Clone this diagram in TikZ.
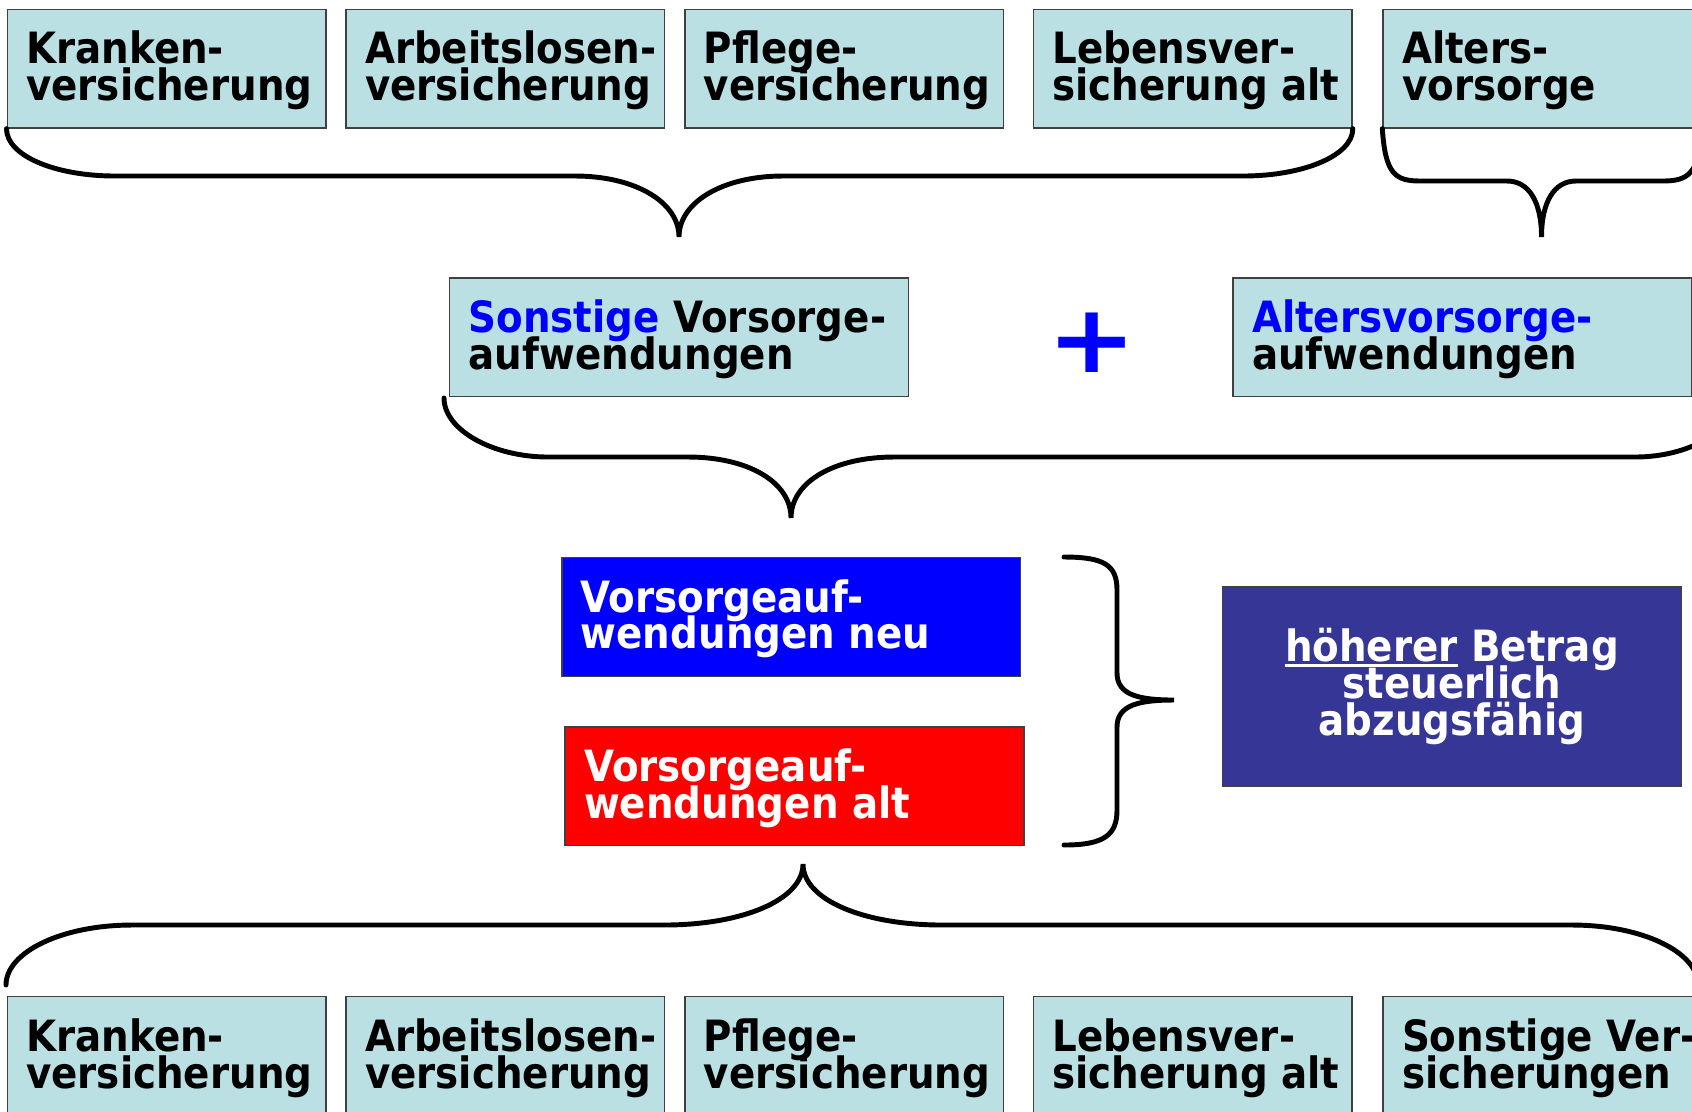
\documentclass[tikz,border=0pt]{standalone}
\usepackage{fontspec}
\setsansfont{DejaVu Sans}[FakeStretch=0.9]
\newfontfamily\plusschrift{DejaVu Sans Bold}
\usepackage{graphicx}
\usetikzlibrary{positioning}

\definecolor{kastengrund}{RGB}{187,224,227}
\definecolor{ergebnisblau}{RGB}{54,54,150}

\newcommand{\strich}[1]{\setbox0\hbox{#1}\rlap{\rule[-1.52pt]{\wd0}{0.76pt}}#1}
\newcommand{\kastenschrift}{\sffamily\bfseries\fontsize{12.26pt}{10.44pt}\selectfont
  \lineskiplimit=-20pt\relax\lineskip=0pt\relax}

\tikzset{
  kasten/.style={draw=black!75, line width=0.4pt, fill=kastengrund, anchor=north west,
    minimum width=3.185cm, minimum height=1.187cm, inner sep=0pt},
  breit/.style={kasten, minimum width=4.586cm},
  schrift/.style={font=\kastenschrift, align=left, inner sep=0pt, yshift=-0.2mm},
  klammer/.style={line width=1.4pt, line cap=round},
}

\begin{document}
\begin{tikzpicture}[x=0.01cm, y=-0.01cm]

\useasboundingbox (0,0) rectangle (1692,1111);
\clip (0,0) rectangle (1692,1111);

% obere Reihe
\node[kasten] (kv1) at (6.5,8.5) {};
\node[schrift, right=1.9mm of kv1.west] (kv1t) {Kranken-\\versicherung};
\node[kasten] (al1) at (345.3,8.5) {};
\node[schrift, right=1.9mm of al1.west] (al1t) {Arbeitslosen-\\versicherung};
\node[kasten] (pf1) at (684.2,8.5) {};
\node[schrift, right=1.9mm of pf1.west] (pf1t) {Pflege-\\versicherung};
\node[kasten] (lv1) at (1032.7,8.5) {};
\node[schrift, right=1.9mm of lv1.west] (lv1t) {Lebensver-\\sicherung alt};
\node[kasten] (av1) at (1382.3,8.5) {};
\node[schrift, right=1.9mm of av1.west] (av1t) {Alters-\\vorsorge};

% mittlere Reihe
\node[breit] (sva) at (448.9,277.3) {};
\node[schrift, right=1.9mm of sva.west] (svat) {\textcolor{blue}{Sonstige} Vorsorge-\\aufwendungen};
\node[text=blue, font=\plusschrift\fontsize{27pt}{27pt}\selectfont, inner sep=0pt] (plus) at (1092,343) {\scalebox{1.12}[1]{+}};
\node[breit] (avw) at (1232.3,277.3) {};
\node[schrift, right=1.9mm of avw.west] (avwt) {\textcolor{blue}{Altersvorsorge-}\\aufwendungen};

\node[breit, fill=blue] (neu) at (561.1,556.8) {};
\node[schrift, text=white, right=1.9mm of neu.west] (neut) {Vorsorgeauf-\\wendungen neu};
\node[breit, fill=red] (alt) at (564.4,726.2) {};
\node[schrift, text=white, right=1.9mm of alt.west] (altt) {Vorsorgeauf-\\wendungen alt};

\node[breit, font=\kastenschrift, align=center, minimum height=1.995cm, fill=ergebnisblau, text=white] (hb) at (1221.8,585.8)
  {\strich{höherer} Betrag\\steuerlich\\abzugsfähig};

% untere Reihe
\node[kasten] (kv2) at (6.5,996) {};
\node[schrift, right=1.9mm of kv2.west] (kv2t) {Kranken-\\versicherung};
\node[kasten] (al2) at (345.3,996) {};
\node[schrift, right=1.9mm of al2.west] (al2t) {Arbeitslosen-\\versicherung};
\node[kasten] (pf2) at (684.2,996) {};
\node[schrift, right=1.9mm of pf2.west] (pf2t) {Pflege-\\versicherung};
\node[kasten] (lv2) at (1032.7,996) {};
\node[schrift, right=1.9mm of lv2.west] (lv2t) {Lebensver-\\sicherung alt};
\node[kasten] (sv2) at (1382.3,996) {};
\node[schrift, right=1.9mm of sv2.west] (sv2t) {Sonstige Ver-\\sicherungen};

% Spitzen und Enden der Klammern
\coordinate (SA) at (679,237);
\coordinate (SB) at (1541.5,237);
\coordinate (C1) at (444,398);
\coordinate (SC) at (791,518);
\coordinate (CE) at (1735,398);
\coordinate (D1) at (1064,557);
\coordinate (D2) at (1064,845);
\coordinate (SD) at (1174,700);
\coordinate (E1) at (6,985);
\coordinate (E2) at (1698,985);
\coordinate (SE) at (803,864);

\draw[klammer] (kv1.south west) .. controls +(0,27) and +(-60,0) .. (115,176) -- (575,176)
  .. controls +(60,0) and +(0,-35) .. (SA) .. controls +(0,-35) and +(-60,0) .. (783,176)
  -- (1243,176) .. controls +(60,0) and +(0,27) .. (lv1.south east);

\draw[klammer] (av1.south west) .. controls +(3,45) and +(-25,0) .. (1420,181) -- (1507,181)
  .. controls +(22,0) and +(0,-35) .. (SB) .. controls +(0,-35) and +(-22,0) .. (1576,181)
  -- (1663,181) .. controls +(25,0) and +(-3,45) .. (av1.south east);

\draw[klammer] (C1) .. controls +(0,32) and +(-55,0) .. (548,457) -- (688,457)
  .. controls +(60,0) and +(0,-36) .. (SC) .. controls +(0,-36) and +(-60,0) .. (894,457)
  -- (1635,457) .. controls +(55,0) and +(0,32) .. (CE);

\draw[klammer] (D1) .. controls +(40,0) and +(0,-25) .. (1117,590) -- (1117,673)
  .. controls +(0,22) and +(-35,0) .. (SD) .. controls +(-35,0) and +(0,-22) .. (1117,727)
  -- (1117,810) .. controls +(0,25) and +(40,0) .. (D2);

\draw[klammer] (E1) .. controls +(0,-33) and +(-70,0) .. (132,925) -- (664,925)
  .. controls +(78,0) and +(0,36) .. (SE) .. controls +(0,36) and +(-78,0) .. (942,925)
  -- (1572,925) .. controls +(70,0) and +(0,-33) .. (E2);

\end{tikzpicture}
\end{document}
